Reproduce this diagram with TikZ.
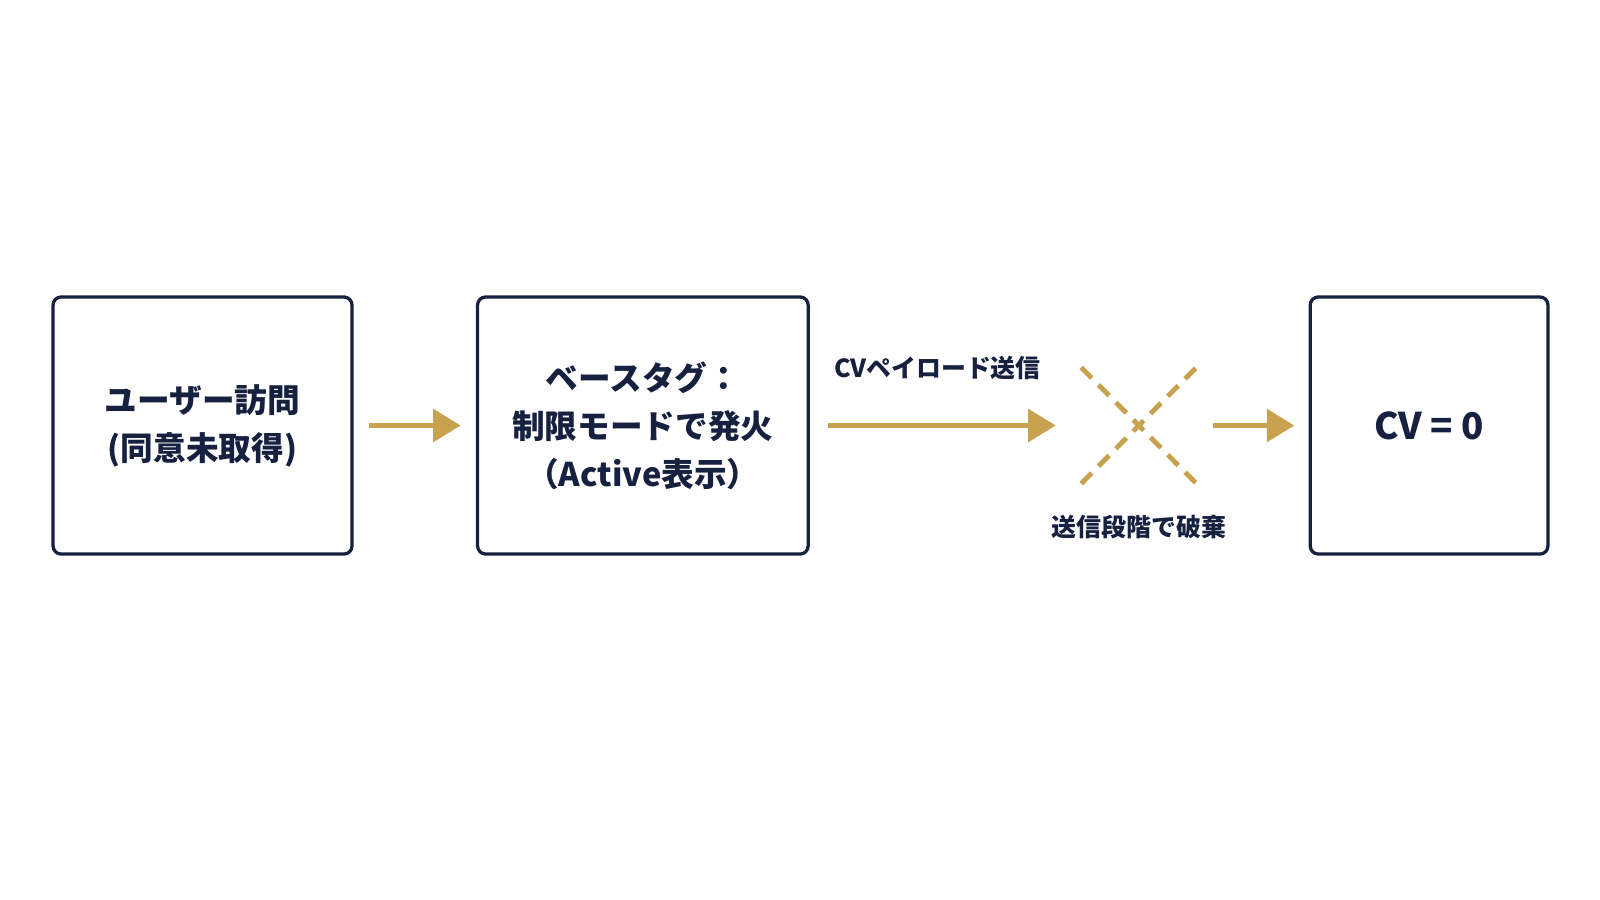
\documentclass[tikz,border=0pt]{standalone}
\usepackage{fontspec}
\setmainfont{Noto Sans CJK JP}
\usetikzlibrary{positioning,arrows.meta}
\definecolor{navy}{HTML}{16203F}
\definecolor{gold}{HTML}{C9A24F}
\tikzset{
	box/.style={draw=navy, line width=1.6pt, rounded corners=4pt, minimum height=126pt, align=center, inner sep=0pt, text=navy, font=\fontsize{16}{23.5}\selectfont\bfseries},
	flow/.style={draw=gold, line width=2pt, -{Triangle[length=13.5pt,width=16pt]}},
	lbl/.style={text=navy, inner sep=0pt, font=\fontsize{12.2}{15}\selectfont\bfseries},
	cut/.style={draw=gold, line width=2.4pt, dash pattern=on 7.3pt off 4.75pt},
}
\begin{document}
\begin{tikzpicture}[x=0.5pt,y=-0.5pt]
	\useasboundingbox (0,0) rectangle (1568,882);
	
	% the three boxes
	\node[box, minimum width=146.5pt] (visit) at (198.5,417) {ユーザー訪問\\(同意未取得)};
	\node[box, minimum width=162pt] (tag) at (630,417) {ベースタグ：\\制限モードで発火\\（Active表示）};
	\node[box, minimum width=116.5pt, font=\fontsize{18}{20}\selectfont\bfseries] (cv) at (1400.5,417) {CV = 0};
	
	% the cross where the payload is dropped
	\node[minimum width=56pt, minimum height=56.5pt, inner sep=0pt] (drop) at (1116,417) {};
	\draw[cut] (drop.north west) -- (drop.south east);
	\draw[cut] (drop.south west) -- (drop.north east);
	
	% arrows
	\draw[flow, shorten <=7.5pt, shorten >=7.5pt] (visit) -- (tag);
	\draw[flow, shorten <=9pt, shorten >=12.5pt] (tag) -- node[lbl, above=21.5pt, xshift=-4pt] {CVペイロード送信} (drop);
	\draw[flow, shorten <=8pt, shorten >=7pt] (drop) -- (cv);
	
	% label under the cross
	\node[lbl, below=15.5pt of drop] (droplbl) {送信段階で破棄};
\end{tikzpicture}
\end{document}
